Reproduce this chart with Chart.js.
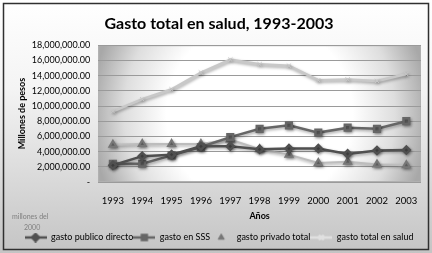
<!DOCTYPE html>
<html>
<head>
<meta charset="utf-8">
<script src="https://cdn.jsdelivr.net/npm/chart.js@4"></script>
<style>
  html, body { margin: 0; padding: 0; background: #fff; }
  #wrap { width: 432px; height: 253px; }
</style>
</head>
<body>
<div id="wrap"><canvas id="grafico" width="432" height="253"></canvas></div>
<script>
const anos = ['1993', '1994', '1995', '1996', '1997', '1998', '1999', '2000', '2001', '2002', '2003'];
const gastoPublico = [2200000, 3400000, 3600000, 4700000, 4700000, 4300000, 4400000, 4400000, 3700000, 4150000, 4200000];
const gastoSSS = [2400000, 2400000, 3500000, 4600000, 5900000, 7000000, 7450000, 6500000, 7150000, 7000000, 8000000];
const gastoPrivado = [4900000, 5000000, 5000000, 5000000, 5600000, 4300000, 3600000, 2500000, 2650000, 2300000, 2200000];
const gastoTotal = [9300000, 10900000, 12200000, 14400000, 16100000, 15500000, 15300000, 13400000, 13500000, 13300000, 14200000];

const fuente = 'Lato, "Open Sans", sans-serif';
const cor1 = '#505050';
const cor2 = '#666666';
const cor3 = '#777777';
const cor4 = '#c8c8c8';

// icono da legenda: linha + marcador
const icone = (cor, corLinha, estilo, comLinha) => {
    const c = document.createElement('canvas');
    c.width = 22; c.height = 10;
    const g = c.getContext('2d');
    if (comLinha) {
        g.strokeStyle = corLinha; g.lineWidth = 2.5;
        g.beginPath(); g.moveTo(0, 5); g.lineTo(22, 5); g.stroke();
    }
    g.fillStyle = cor; g.strokeStyle = cor;
    Chart.helpers.drawPoint(g, { pointStyle: estilo, radius: 3.5, borderWidth: 1.5 }, 11, 5);
    g.fill();
    return c;
};

const fundo = {
    id: 'fundo',
    beforeDraw(chart) {
        const { ctx, width, height, chartArea: a } = chart;
        ctx.save();
        let gr = ctx.createLinearGradient(0, 0, 0, height);
        gr.addColorStop(0, '#ffffff');
        gr.addColorStop(0.35, '#f4f4f4');
        gr.addColorStop(1, '#c4c4c4');
        ctx.fillStyle = gr;
        ctx.fillRect(0, 0, width, height);
        ctx.strokeStyle = '#303030';
        ctx.lineWidth = 1.5;
        ctx.strokeRect(3.5, 3.5, width - 7, height - 7);

        const cx = (a.left + a.right) / 2, cy = (a.top + a.bottom) / 2;
        const r = (a.right - a.left) / 2;
        gr = ctx.createRadialGradient(cx, cy, 0, cx, cy, r * 1.05);
        gr.addColorStop(0, '#ffffff');
        gr.addColorStop(0.55, '#ffffff');
        gr.addColorStop(0.8, '#dedede');
        gr.addColorStop(1, '#a8a8a8');
        ctx.fillStyle = gr;
        ctx.fillRect(a.left, a.top, a.right - a.left, a.bottom - a.top);
        ctx.strokeStyle = '#b0b0b0';
        ctx.lineWidth = 1;
        ctx.strokeRect(a.left + 0.5, a.top + 0.5, a.right - a.left - 1, a.bottom - a.top - 1);

        ctx.fillStyle = '#808080';
        ctx.font = '7px ' + fuente;
        ctx.textAlign = 'left';
        ctx.fillText('millones del', 12, 217);
        ctx.fillText('2000', 24, 228);
        ctx.restore();
    },
    beforeDatasetsDraw(chart) {
        const ctx = chart.ctx;
        ctx.save();
        ctx.shadowColor = 'rgba(0,0,0,0.35)';
        ctx.shadowBlur = 3;
        ctx.shadowOffsetX = 1;
        ctx.shadowOffsetY = 1.5;
    },
    afterDatasetsDraw(chart) {
        chart.ctx.restore();
    }
};

const ctx = document.getElementById('grafico').getContext('2d');
const grafico = new Chart(ctx, {
    type: 'line',
    data: {
        labels: anos,
        datasets: [{
            label: 'gasto publico directo',
            data: gastoPublico,
            borderColor: cor1,
            backgroundColor: cor1,
            pointStyle: 'rectRot',
            pointRadius: 3.5,
            borderWidth: 2.5,
            order: 1
        },
        {
            label: 'gasto en SSS',
            data: gastoSSS,
            borderColor: cor2,
            backgroundColor: cor2,
            pointStyle: 'rect',
            pointRadius: 4,
            borderWidth: 2.5,
            order: 2
        },
        {
            label: 'gasto privado total',
            data: gastoPrivado,
            borderColor: '#bdbdbd',
            backgroundColor: cor3,
            pointBorderColor: cor3,
            pointStyle: 'triangle',
            pointRadius: 4,
            borderWidth: 2,
            order: 3
        },
        {
            label: 'gasto total en salud',
            data: gastoTotal,
            borderColor: cor4,
            backgroundColor: cor4,
            pointStyle: 'crossRot',
            pointRadius: 3,
            pointBorderWidth: 1,
            borderWidth: 2.5,
            order: 4
        }]
    },
    options: {
        animation: false,
        responsive: false,
        layout: { padding: { left: 17, right: 11, top: 8, bottom: 1 } },
        plugins: {
            title: {
                display: true,
                text: 'Gasto total en salud, 1993-2003',
                color: '#000',
                font: { family: fuente, size: 16, weight: 'bold' },
                padding: { top: 6, bottom: 12 }
            },
            legend: {
                position: 'bottom',
                labels: {
                    color: '#000',
                    font: { family: fuente, size: 9 },
                    boxWidth: 22,
                    boxHeight: 10,
                    pointStyleWidth: 22,
                    padding: 0,
                    usePointStyle: true,
                    generateLabels(chart) {
                        const icones = [
                            icone(cor1, cor1, 'rectRot', true),
                            icone(cor2, cor2, 'rect', true),
                            icone(cor3, cor3, 'triangle', false),
                            icone('#e0e0e0', '#e0e0e0', 'crossRot', true)
                        ];
                        return chart.data.datasets.map((d, i) => ({
                            text: d.label,
                            pointStyle: icones[i],
                            fontColor: '#000',
                            datasetIndex: i,
                            hidden: false,
                            lineWidth: 0
                        }));
                    }
                }
            },
            tooltip: { enabled: false }
        },
        scales: {
            x: {
                offset: true,
                grid: { display: false, drawTicks: false },
                border: { display: false },
                afterFit: s => { s.height = 51; },
                ticks: {
                    color: '#000',
                    font: { family: fuente, size: 9.5 },
                    padding: 13,
                    maxRotation: 0,
                    minRotation: 0
                },
                title: {
                    display: true,
                    text: 'Años',
                    color: '#000',
                    font: { family: fuente, size: 9, weight: 'bold' },
                    padding: { top: 2, bottom: 12 }
                }
            },
            y: {
                min: 0,
                max: 18000000,
                grid: { color: '#9a9a9a', drawTicks: false },
                border: { display: false },
                afterFit: s => { s.width -= 4; },
                ticks: {
                    stepSize: 2000000,
                    autoSkip: false,
                    color: '#000',
                    font: { family: fuente, size: 9 },
                    padding: 8,
                    callback: v => v === 0 ? '-' : v.toLocaleString('en-US', { minimumFractionDigits: 2 })
                },
                title: {
                    display: true,
                    text: 'Millones de pesos',
                    color: '#000',
                    font: { family: fuente, size: 9, weight: 'bold' },
                    padding: 0
                }
            }
        }
    },
    plugins: [fundo]
});
</script>
</body>
</html>
